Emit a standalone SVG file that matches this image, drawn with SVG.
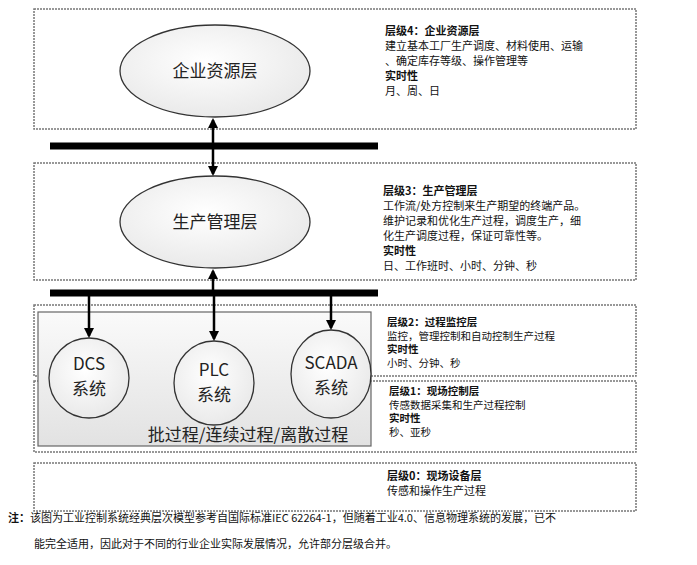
<svg xmlns="http://www.w3.org/2000/svg" width="697" height="565" viewBox="0 0 697 565">
<style>
.lay{fill:#fff;stroke:#777;stroke-width:1.5;stroke-dasharray:2 1}
.el{fill:url(#g);stroke:#333;stroke-width:1.3}
.t{font-family:"Noto Sans CJK SC","Liberation Sans",sans-serif;font-size:11px;fill:#111}
.s{font-size:10.5px}
.b{font-weight:bold}
.big{font-family:"Noto Sans CJK SC","Liberation Sans",sans-serif;font-size:17px;fill:#222;text-anchor:middle}
.bar{stroke:#000;stroke-width:7}
.ar{stroke:#000;stroke-width:2.5;fill:none}
</style>
<defs>
<radialGradient id="g" cx="0.45" cy="0.4" r="0.7"><stop offset="0" stop-color="#fff"/><stop offset="1" stop-color="#e6e6e6"/></radialGradient>
<linearGradient id="gb" x1="0" y1="0" x2="0" y2="1"><stop offset="0" stop-color="#fafafa"/><stop offset="1" stop-color="#e2e2e2"/></linearGradient>
<marker id="m" viewBox="0 0 10 10" refX="8" refY="5" markerWidth="4" markerHeight="4" orient="auto-start-reverse"><path d="M0 0L10 5L0 10z" fill="#000"/></marker>
</defs>
<g id="layer4"><rect class="lay" x="34" y="9" width="602" height="120"/>
<text class="t" x="385" y="35"><tspan class="b">层级4：企业资源层</tspan><tspan x="385" dy="15">建立基本工厂生产调度、材料使用、运输</tspan><tspan x="385" dy="15">、确定库存等级、操作管理等</tspan><tspan x="385" dy="15" class="b">实时性</tspan><tspan x="385" dy="15">月、周、日</tspan></text></g>
<g id="layer3"><rect class="lay" x="34" y="163" width="602" height="117"/>
<text class="t" x="383" y="195"><tspan class="b">层级3：生产管理层</tspan><tspan x="383" dy="15">工作流/处方控制来生产期望的终端产品。</tspan><tspan x="383" dy="15">维护记录和优化生产过程，调度生产，细</tspan><tspan x="383" dy="15">化生产调度过程，保证可靠性等。</tspan><tspan x="383" dy="15" class="b">实时性</tspan><tspan x="383" dy="15">日、工作班时、小时、分钟、秒</tspan></text></g>
<g id="layer2"><rect class="lay" x="34" y="305" width="602" height="71"/>
<text class="t s" x="387" y="326"><tspan class="b">层级2：过程监控层</tspan><tspan x="387" dy="13.5">监控，管理控制和自动控制生产过程</tspan><tspan x="387" dy="13.5" class="b">实时性</tspan><tspan x="387" dy="13.5">小时、分钟、秒</tspan></text></g>
<g id="layer1"><rect class="lay" x="34" y="381" width="602" height="71"/>
<text class="t s" x="389" y="395"><tspan class="b">层级1：现场控制层</tspan><tspan x="389" dy="13.5">传感数据采集和生产过程控制</tspan><tspan x="389" dy="13.5" class="b">实时性</tspan><tspan x="389" dy="13.5">秒、亚秒</tspan></text></g>
<g id="layer0"><rect class="lay" x="34" y="463" width="602" height="48"/>
<text class="t" x="387" y="480"><tspan class="b">层级0：现场设备层</tspan><tspan x="387" dy="15">传感和操作生产过程</tspan></text></g>
<g id="process"><rect x="38" y="312" width="333" height="134" fill="url(#gb)" stroke="#666" stroke-width="1.2"/>
<text class="big" x="248" y="441" font-size="16">批过程/连续过程/离散过程</text></g>
<g id="erp"><ellipse class="el" cx="215" cy="71" rx="95" ry="46"/><text class="big" x="215" y="77">企业资源层</text></g>
<g id="mes"><ellipse class="el" cx="215" cy="222" rx="95" ry="46"/><text class="big" x="215" y="228">生产管理层</text></g>
<g id="dcs"><ellipse class="el" cx="89" cy="378" rx="40" ry="40"/><text class="big" x="89" y="370" font-size="15">DCS</text><text class="big" x="89" y="395" font-size="15">系统</text></g>
<g id="plc"><ellipse class="el" cx="214" cy="383" rx="40" ry="42"/><text class="big" x="214" y="376" font-size="15">PLC</text><text class="big" x="214" y="401" font-size="15">系统</text></g>
<g id="scada"><ellipse class="el" cx="331" cy="374" rx="40" ry="44"/><text class="big" x="331" y="369" font-size="15">SCADA</text><text class="big" x="331" y="394" font-size="15">系统</text></g>
<g id="connectors">
<line class="bar" x1="50" y1="146" x2="378" y2="146"/>
<line class="bar" x1="50" y1="293" x2="378" y2="293"/>
<line class="ar" x1="213" y1="120" x2="213" y2="174" marker-start="url(#m)" marker-end="url(#m)"/>
<line class="ar" x1="213" y1="271" x2="213" y2="290" marker-start="url(#m)"/>
<line class="ar" x1="214" y1="296" x2="214" y2="339" marker-end="url(#m)"/>
<line class="ar" x1="89" y1="296" x2="89" y2="336" marker-end="url(#m)"/>
<line class="ar" x1="331" y1="296" x2="331" y2="328" marker-end="url(#m)"/>
</g>
<g id="note"><text class="t" x="8" y="522" font-size="12"><tspan class="b">注：</tspan>该图为工业控制系统经典层次模型参考自国际标准IEC 62264-1，但随着工业4.0、信息物理系统的发展，已不</text>
<text class="t" x="34" y="548" font-size="12">能完全适用，因此对于不同的行业企业实际发展情况，允许部分层级合并。</text></g>
</svg>
